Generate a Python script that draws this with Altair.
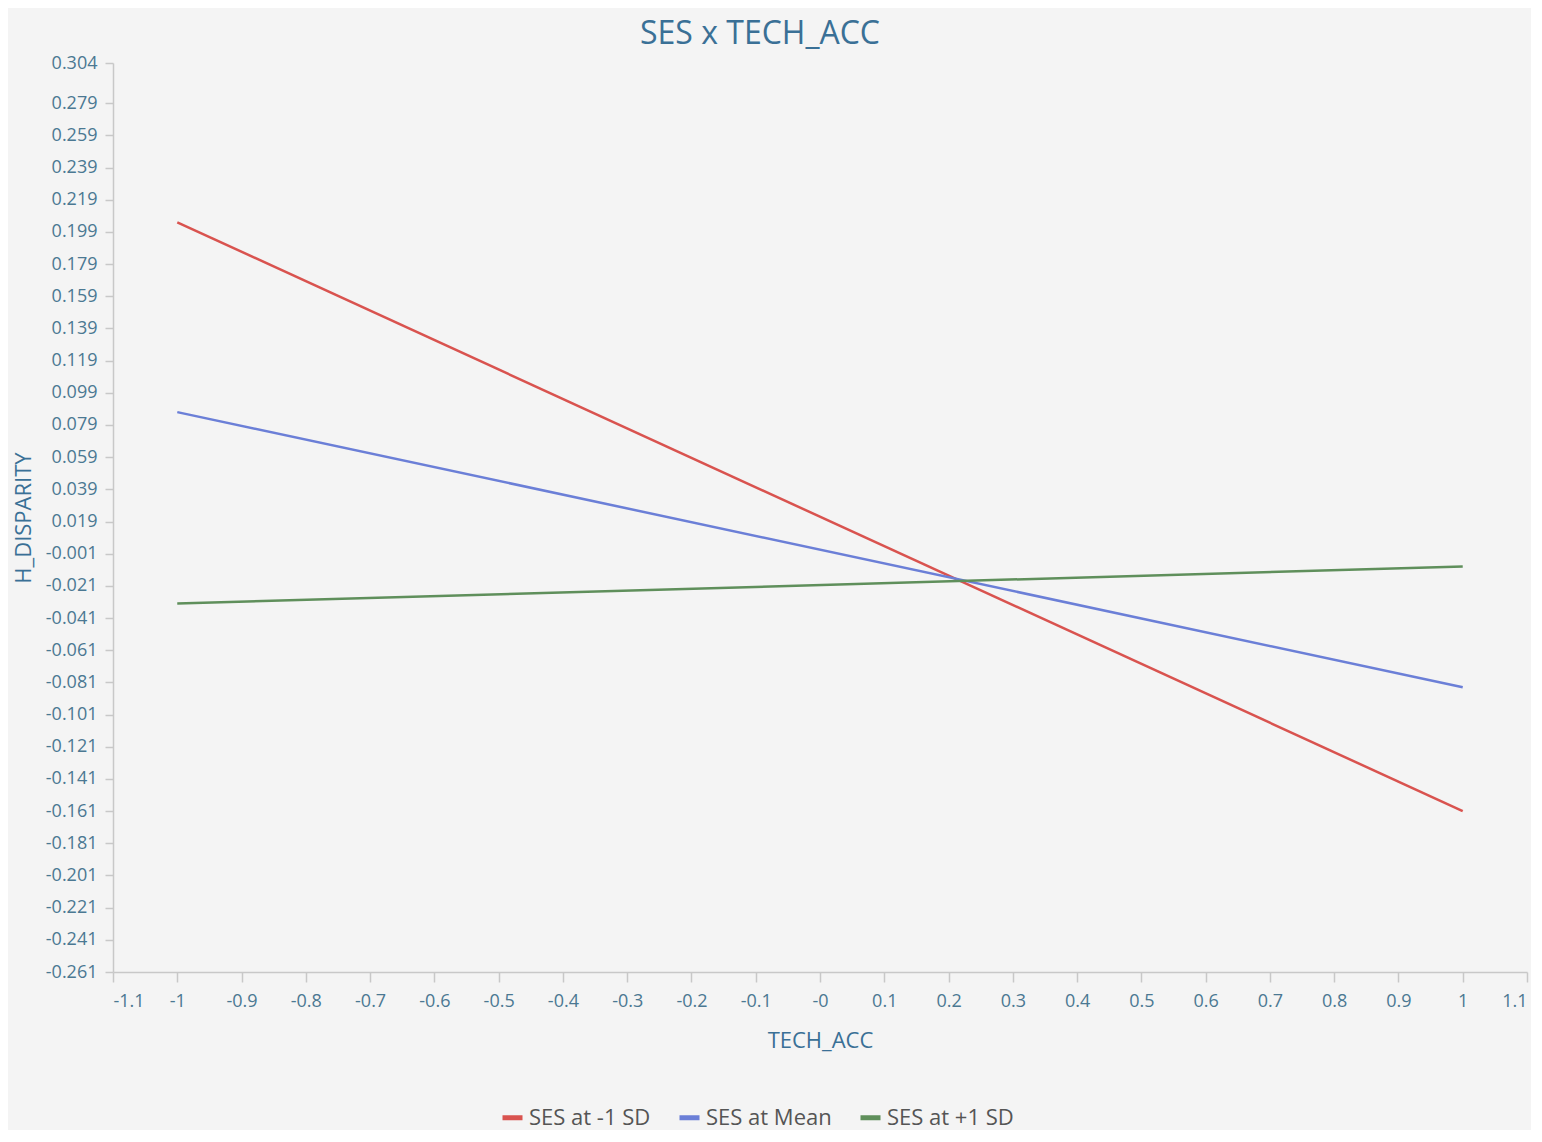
import altair as alt
import pandas as pd

series = ["SES at -1 SD", "SES at Mean", "SES at +1 SD"]
colors = ["#d9534f", "#6b7fd7", "#5f8f5b"]
x_vals = [-1, 1]
y_low = [0.205, -0.161]
y_mean = [0.087, -0.084]
y_high = [-0.032, -0.009]

y_ticks = [round(-0.261 + 0.02 * k, 3) for k in range(28)] + [0.304]
x_ticks = [round(-1.1 + 0.1 * k, 1) for k in range(23)]

rows = []
for name, ys in zip(series, [y_low, y_mean, y_high]):
    for x, y in zip(x_vals, ys):
        rows.append({"TECH_ACC": x, "H_DISPARITY": y, "series": name})
df = pd.DataFrame(rows)

FONT = "Open Sans"
TXT = "#4b7892"
TITLE_C = "#3a7096"

chart = alt.Chart(df).mark_line(strokeWidth=2.5).encode(
    x=alt.X("TECH_ACC:Q",
            scale=alt.Scale(domain=[-1.1, 1.1], nice=False, zero=False),
            axis=alt.Axis(values=x_ticks, title="TECH_ACC", grid=False,
                          labelExpr="abs(datum.value) < 1e-9 ? '-0' : replace(format(datum.value, '~g'), '\u2212', '-')",
                          tickSize=10, labelPadding=10, titlePadding=20,
                          labelFontSize=18, titleFontSize=22, titleFontWeight="normal",
                          titleColor=TITLE_C)),
    y=alt.Y("H_DISPARITY:Q",
            scale=alt.Scale(domain=[-0.261, 0.304], nice=False, zero=False),
            axis=alt.Axis(values=y_ticks, title="H_DISPARITY", grid=False,
                          labelExpr="replace(format(datum.value, '.3f'), '\u2212', '-')",
                          tickSize=8, labelPadding=8, titlePadding=10,
                          labelFontSize=18, titleFontSize=22, titleFontWeight="normal",
                          titleColor=TITLE_C)),
    color=alt.Color("series:N",
                    scale=alt.Scale(domain=series, range=colors),
                    sort=series,
                    legend=alt.Legend(title=None, orient="none", direction="horizontal",
                                      legendX=387, legendY=1042,
                                      symbolType="stroke", symbolSize=400,
                                      symbolStrokeWidth=5, labelFontSize=22,
                                      labelColor="#555555", columnPadding=18,
                                      labelFont=FONT)),
).properties(
    width=1414, height=909,
    title=alt.Title("SES x TECH_ACC", fontSize=32, font=FONT, color=TITLE_C,
                    fontWeight="normal", offset=3, dx=-60),
    autosize=alt.AutoSizeParams(type="none"),
    padding={"left": 105, "top": 55, "right": 4, "bottom": 158},
    background="#f4f4f4",
).configure_view(
    stroke=None
).configure_axis(
    labelFont=FONT, titleFont=FONT, labelColor=TXT, titleColor=TXT,
    domainColor="#c8c8c8", tickColor="#c8c8c8", domainWidth=1.5, tickWidth=1.5
)

chart.save("out.html", embed_options={"renderer": "svg", "actions": False})
